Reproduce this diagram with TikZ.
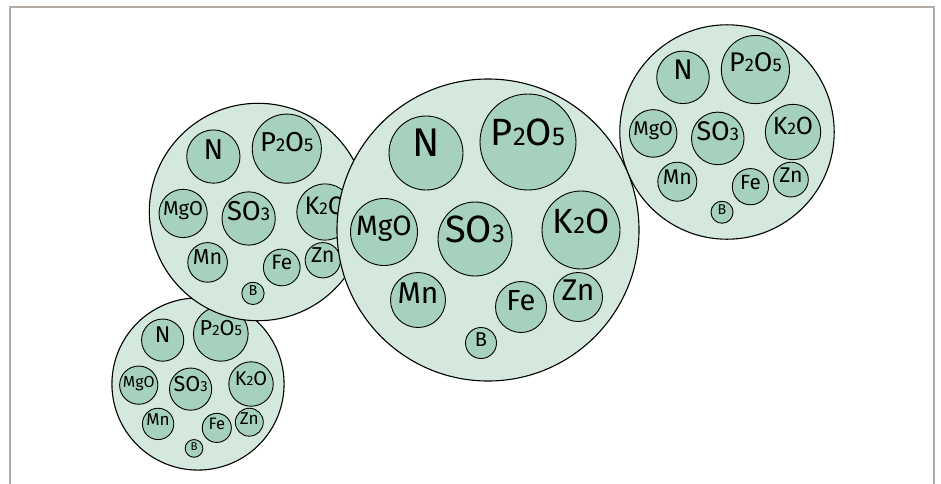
\documentclass[tikz,border=0pt]{standalone}
\usepackage{fontspec}
\setmainfont{Fira Sans}
\usepackage{graphicx}
\usetikzlibrary{positioning}
\definecolor{ballfill}{HTML}{D4E8DE}
\definecolor{itemfill}{HTML}{A6D1BE}
\definecolor{framegray}{HTML}{B4ABA2}
\tikzstyle{ball} = [circle, draw, fill=ballfill, line width=1.1pt, inner sep=0pt, minimum size=302pt]
\tikzstyle{item} = [circle, draw, fill=itemfill, line width=0.9pt, inner sep=0pt,
   text height=0.69em, text depth=0pt]
\newcommand{\sm}[1]{\scalebox{0.68}{#1}}
\newcommand{\fsz}[1]{\fontsize{#1}{#1}\selectfont}
% one ball of nutrients: name, x, y, scale
\newcommand{\fertball}[4]{%
\begin{scope}[shift={(#2,#3)}, scale=#4, transform shape]
\node (#1) [ball] at (0,0) {};
\node (#1-N) [item, minimum size=74pt, font=\fsz{40}] at (-62,-77) {N};
\node (#1-P) [item, minimum size=96pt, font=\fsz{38}] at (40,-88) {P\sm{2}O\sm{5}};
\node (#1-Mg) [item, minimum size=67pt, font=\fsz{28}] at (-104,2) {MgO};
\node (#1-S) [item, minimum size=74pt, font=\fsz{38}] at (-13,9) {SO\sm{3}};
\node (#1-K) [item, minimum size=78pt, font=\fsz{35}] at (93,0) {K\sm{2}O};
\node (#1-Mn) [item, minimum size=55pt, font=\fsz{30}] at (-70,70) {Mn};
\node (#1-Fe) [item, minimum size=51pt, font=\fsz{29}] at (33,77) {Fe};
\node (#1-Zn) [item, minimum size=49pt, font=\fsz{30}] at (90,67) {Zn};
\node (#1-B) [item, minimum size=31pt, font=\fsz{20}] at (-7,113) {B};
\end{scope}}

\begin{document}
\begin{tikzpicture}[x=1pt, y=-1pt]
\useasboundingbox (0,0) rectangle (941,483);

% frame, open at the bottom
\draw [framegray, line width=2pt] (10,484) -- (10,7) -- (934,7) -- (934,484);

\fertball{low}{198}{384}{0.57}
\fertball{left}{258}{212}{0.72}
\fertball{right}{727}{132}{0.71}
\fertball{main}{488}{230}{1}

\end{tikzpicture}
\end{document}
